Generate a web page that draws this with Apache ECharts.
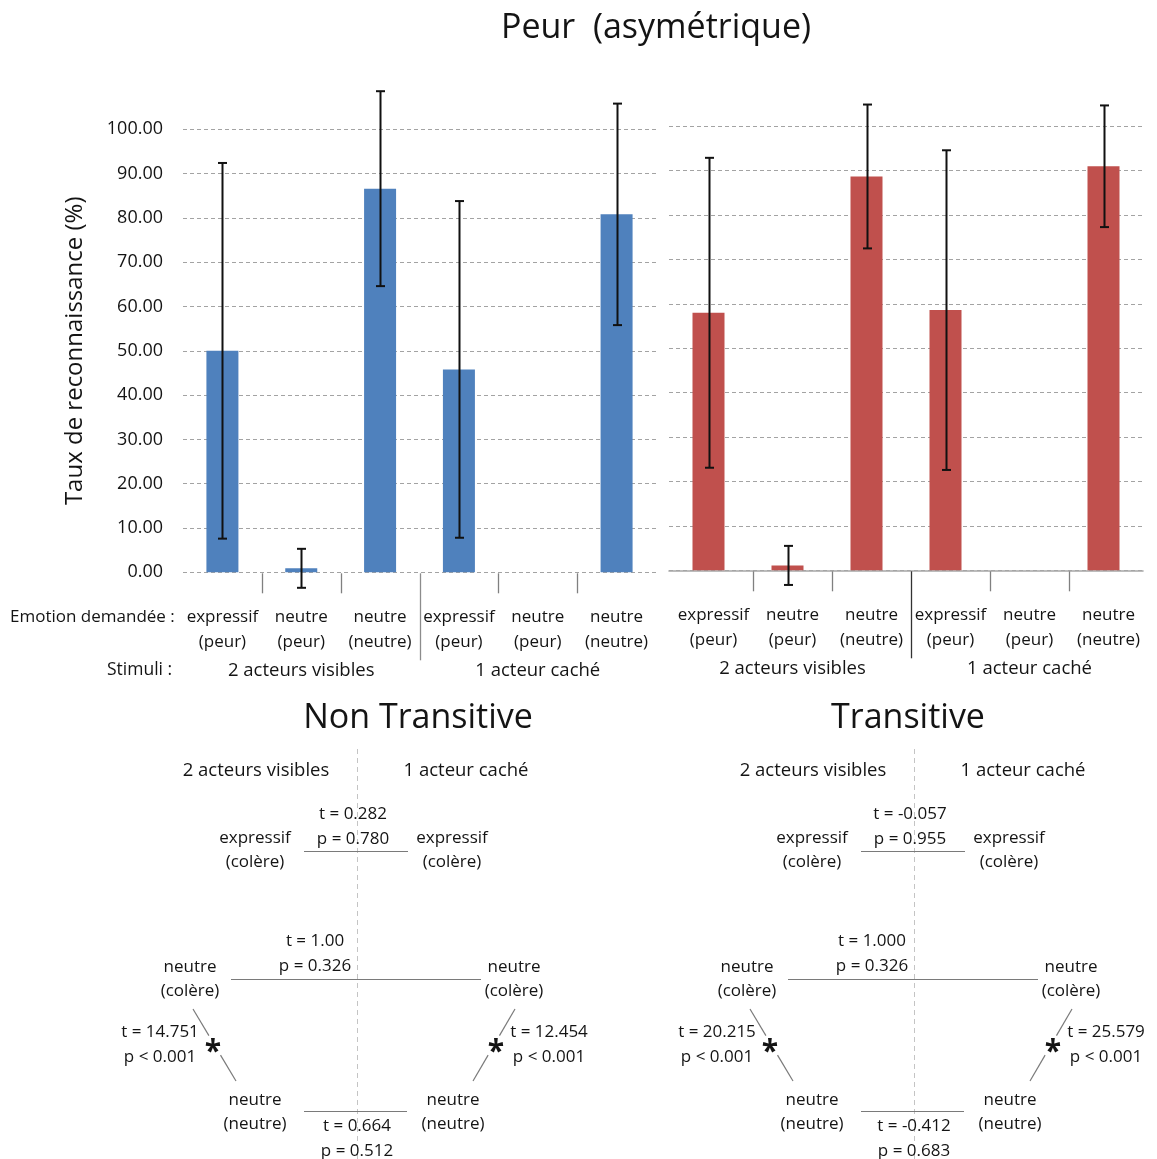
<!DOCTYPE html>
<html lang="fr">
<head>
<meta charset="utf-8">
<title>Peur (asymétrique)</title>
<script src="https://cdn.jsdelivr.net/npm/echarts@6/dist/echarts.min.js"></script>
<style>
  html, body { margin: 0; padding: 0; background: #fff; }
  #chart { width: 1157px; height: 1159px; }
</style>
</head>
<body>
<div id="chart"></div>
<script>
// ---- Data -------------------------------------------------------------
const categories = ['expressif\n(peur)', 'neutre\n(peur)', 'neutre\n(neutre)',
                    'expressif\n(peur)', 'neutre\n(peur)', 'neutre\n(neutre)'];
const categoryGroup = [0, 0, 0, 1, 1, 1];
const stimuli = ['2 acteurs visibles', '1 acteur caché'];

const yMin = 0;
const yMax = 100;
const yInterval = 10;

// Recognition rate (%) and error-bar half widths
const nonTransitiveMeans  = [50.0, 0.9, 86.6, 45.8, 0, 80.8];
const nonTransitiveErrors = [42.4, 4.4, 22.0, 38.0, 0, 25.0];
const transitiveMeans     = [58.0, 1.1, 88.7, 58.6, 0, 91.0];
const transitiveErrors    = [34.9, 4.4, 16.2, 36.0, 0, 13.7];

// Paired comparisons: top, middle, left diagonal, right diagonal, bottom
const diagramTitles = ['Non Transitive', 'Transitive'];
const diagramNodes = ['expressif\n(colère)', 'neutre\n(colère)', 'neutre\n(neutre)'];
const nonTransitiveT = ['0.282', '1.00', '14.751', '12.454', '0.664'];
const nonTransitiveP = ['= 0.780', '= 0.326', '< 0.001', '< 0.001', '= 0.512'];
const transitiveT    = ['-0.057', '1.000', '20.215', '25.579', '-0.412'];
const transitiveP    = ['= 0.955', '= 0.326', '< 0.001', '< 0.001', '= 0.683'];

// ---- Styling ----------------------------------------------------------
const FONT = '"Open Sans", "Noto Sans", sans-serif';
const TEXT = '#141414';
const GRID_LINE = { type: [4, 3], color: '#a3a3a3', width: 1 };

const chart = echarts.init(document.getElementById('chart'), null, { renderer: 'canvas' });

function errorBarSeries(xIdx, means, errors) {
  return {
    type: 'custom',
    xAxisIndex: xIdx, yAxisIndex: xIdx === 0 ? 0 : 1,
    clip: false, z: 5,
    data: means.map((m, i) => [i, m, errors[i]]),
    renderItem(params, api) {
      const i = api.value(0), m = api.value(1), e = api.value(2);
      if (!e) return null;
      const top = api.coord([i, m + e]);
      const bot = api.coord([i, m - e]);
      const x = Math.round(top[0]) + 0.5, cap = 4.5;
      const st = { stroke: '#111', lineWidth: 2 };
      return {
        type: 'group',
        children: [
          { type: 'line', shape: { x1: x, y1: top[1], x2: x, y2: bot[1] }, style: st },
          { type: 'line', shape: { x1: x - cap, y1: top[1], x2: x + cap, y2: top[1] }, style: st },
          { type: 'line', shape: { x1: x - cap, y1: bot[1], x2: x + cap, y2: bot[1] }, style: st }
        ]
      };
    }
  };
}

// Tick marks between categories; the one between stimulus groups is longer
function separatorSeries(xIdx, longColor, shift) {
  const boundaries = categories.slice(0, -1).map((c, i) => [i, 0]);
  return {
    type: 'custom',
    xAxisIndex: xIdx, yAxisIndex: xIdx === 0 ? 0 : 1,
    clip: false, silent: true, z: 4,
    data: boundaries,
    renderItem(params, api) {
      const i = api.value(0);
      const c = api.coord([i, 0]);
      const w = api.size([1, 0])[0];
      const x = Math.round(c[0] + w / 2 + shift) + 0.5;
      const isGroupEdge = categoryGroup[i] !== categoryGroup[i + 1];
      return {
        type: 'line',
        shape: { x1: x, y1: c[1] + 1, x2: x, y2: c[1] + (isGroupEdge ? 88 : 21) },
        style: { stroke: isGroupEdge ? longColor : '#808080', lineWidth: 1.3 }
      };
    }
  };
}

function categoryAxis(gridIndex, showLine, shift) {
  return {
    type: 'category', gridIndex, data: categories, position: 'bottom',
    axisLine: { show: showLine, lineStyle: { color: '#a6a6a6', width: 1.6 } },
    axisTick: { show: false },
    axisLabel: {
      interval: 0, margin: 32, color: TEXT, fontFamily: FONT, fontSize: 17, lineHeight: 25.5,
      padding: [0, 0, 0, 2 * shift]
    }
  };
}
function groupAxis(gridIndex, shift) {
  return {
    type: 'category', gridIndex, data: stimuli, position: 'bottom',
    axisLine: { show: false }, axisTick: { show: false },
    axisLabel: {
      interval: 0, margin: 89, color: TEXT, fontFamily: FONT, fontSize: 18.5,
      padding: [0, 0, 0, 2 * shift]
    }
  };
}
function valueAxis(gridIndex, showLabels) {
  return {
    type: 'value', gridIndex, min: yMin, max: yMax, interval: yInterval,
    axisLine: { show: false }, axisTick: { show: false },
    axisLabel: {
      show: showLabels, margin: 20, color: TEXT, fontFamily: FONT, fontSize: 18,
      formatter: v => v.toFixed(2)
    },
    splitLine: { show: true, lineStyle: GRID_LINE },
    name: showLabels ? 'Taux de reconnaissance (%)' : '',
    nameLocation: 'middle', nameGap: 96,
    nameTextStyle: { color: TEXT, fontFamily: FONT, fontSize: 24 }
  };
}

// ---- Comparison diagrams (plain graphics) -----------------------------
function txt(x, y, s, size, align, weight) {
  const a = align || 'center';
  return {
    type: 'text', silent: true,
    style: {
      text: s, x, y, fill: TEXT, font: (weight || 'normal') + ' ' + (size || 17) + 'px ' + FONT,
      align: a, verticalAlign: 'middle', textAlign: a, textVerticalAlign: 'middle'
    }
  };
}
function seg(x1, y1, x2, y2, color, dash, w) {
  return {
    type: 'line', silent: true,
    shape: { x1, y1, x2, y2 },
    style: { stroke: color, lineWidth: w || 1.2, lineDash: dash || null }
  };
}

function diagram(cx, titleX, title, tArr, pArr) {
  const els = [];
  const lineCol = '#7a7a7a';
  const node = (x, y, label) => {
    label.split('\n').forEach((l, k) => els.push(txt(x, y + k * 24.5, l)));
  };
  const stats = (x, y, k) => {
    els.push(txt(x, y, 't = ' + tArr[k]));
    els.push(txt(x, y + 25, 'p ' + pArr[k]));
  };
  const sig = k => pArr[k].trim().startsWith('<');
  const diag = (k, a, b, starX) => {
    if (sig(k)) {
      const f1 = 0.37, f2 = 0.64;
      els.push(seg(a[0], a[1], a[0] + (b[0] - a[0]) * f1, a[1] + (b[1] - a[1]) * f1, lineCol));
      els.push(seg(a[0] + (b[0] - a[0]) * f2, a[1] + (b[1] - a[1]) * f2, b[0], b[1], lineCol));
      els.push(txt(starX, 1052, '*', 30, 'center', 'bold'));
    } else {
      els.push(seg(a[0], a[1], b[0], b[1], lineCol));
    }
  };

  els.push(txt(titleX, 718, title, 34));
  els.push(seg(cx + 0.5, 749, cx + 0.5, 1159, '#c4c4c4', [5, 4], 1));
  els.push(txt(cx - 101, 771, stimuli[0], 18.5));
  els.push(txt(cx + 109, 771, stimuli[1], 18.5));

  node(cx - 102, 838, diagramNodes[0]);
  node(cx + 95, 838, diagramNodes[0]);
  node(cx - 167, 967, diagramNodes[1]);
  node(cx + 157, 967, diagramNodes[1]);
  node(cx - 102, 1100, diagramNodes[2]);
  node(cx + 96, 1100, diagramNodes[2]);

  // top: expressif vs expressif
  els.push(seg(cx - 53, 851.5, cx + 51, 851.5, lineCol));
  stats(cx - 4, 814, 0);
  // middle: neutre (colère) vs neutre (colère)
  els.push(seg(cx - 126, 979.5, cx + 124, 979.5, lineCol));
  stats(cx - 42, 941, 1);
  // left diagonal (2 acteurs visibles)
  diag(2, [cx - 164, 1009], [cx - 121, 1081], cx - 144);
  stats(cx - 197, 1032, 2);
  // right diagonal (1 acteur caché)
  diag(3, [cx + 158, 1009], [cx + 116, 1081], cx + 139);
  stats(cx + 192, 1032, 3);
  // bottom: neutre (neutre) vs neutre (neutre)
  els.push(seg(cx - 53, 1111.5, cx + 50, 1111.5, lineCol));
  stats(cx, 1126, 4);
  return els;
}

const graphics = [
  txt(656, 28, 'Peur  (asymétrique)', 34),
  txt(10, 617, 'Emotion demandée :', 17, 'left'),
  txt(107, 670, 'Stimuli :', 17.5, 'left'),
  ...diagram(357, 418, diagramTitles[0], nonTransitiveT, nonTransitiveP),
  ...diagram(914, 908, diagramTitles[1], transitiveT, transitiveP)
];

const option = {
  animation: false,
  backgroundColor: '#fff',
  textStyle: { fontFamily: FONT },
  grid: [
    { left: 183, top: 129.3, width: 473, height: 443 },
    { left: 669, top: 126.3, width: 474, height: 444 }
  ],
  xAxis: [categoryAxis(0, false, 0), groupAxis(0, 0), categoryAxis(1, true, 5), groupAxis(1, 5)],
  yAxis: [valueAxis(0, true), valueAxis(1, false)],
  series: [
    {
      type: 'bar', xAxisIndex: 0, yAxisIndex: 0, data: nonTransitiveMeans,
      barWidth: 32, itemStyle: { color: '#4f81bd' }
    },
    errorBarSeries(0, nonTransitiveMeans, nonTransitiveErrors),
    separatorSeries(0, '#8c8c8c', 0),
    {
      type: 'bar', xAxisIndex: 2, yAxisIndex: 1, data: transitiveMeans,
      barWidth: 32, itemStyle: { color: '#c0504d' }
    },
    errorBarSeries(2, transitiveMeans, transitiveErrors),
    separatorSeries(2, '#333', 5)
  ],
  graphic: graphics
};

chart.setOption(option);
</script>
</body>
</html>
